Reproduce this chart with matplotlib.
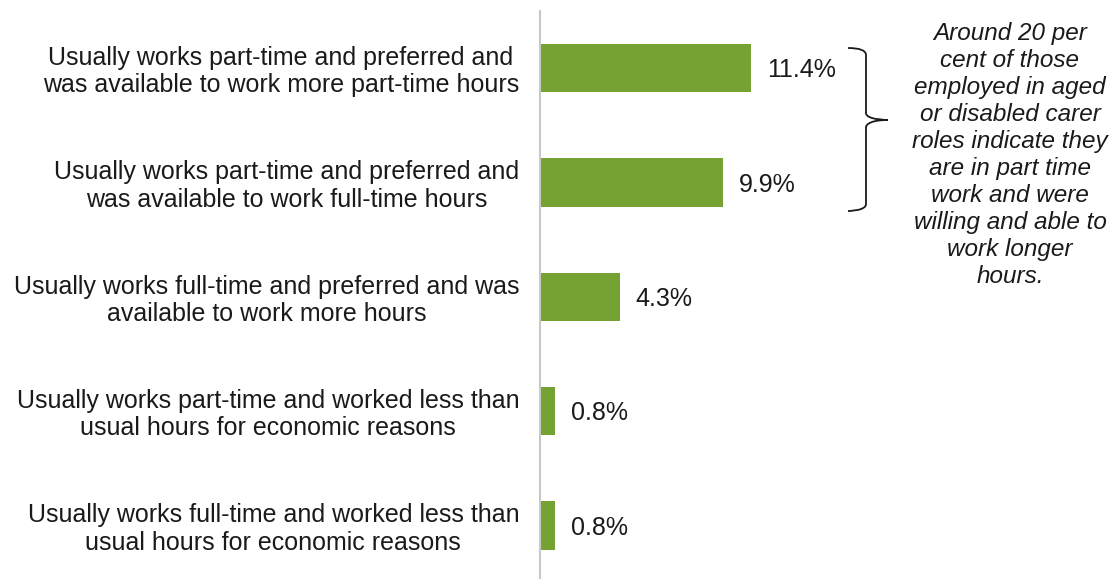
import matplotlib
matplotlib.use("Agg")
import matplotlib.pyplot as plt
from matplotlib.path import Path
from matplotlib.patches import PathPatch
from matplotlib.transforms import Affine2D, ScaledTranslation

plt.rcParams['font.family'] = ['Liberation Sans', 'DejaVu Sans']

categories = [
    "Usually works part-time and preferred and\nwas available to work more part-time hours",
    "Usually works part-time and preferred and\nwas available to work full-time hours",
    "Usually works full-time and preferred and was\navailable to work more hours",
    "Usually works part-time and worked less than\nusual hours for economic reasons",
    "Usually works full-time and worked less than\nusual hours for economic reasons",
]
values = [11.4, 9.9, 4.3, 0.8, 0.8]
value_labels = ["11.4%", "9.9%", "4.3%", "0.8%", "0.8%"]
note = ("Around 20 per\ncent of those\nemployed in aged\nor disabled carer\n"
        "roles indicate they\nare in part time\nwork and were\nwilling and able to\n"
        "work longer\nhours.")

W, H = 1111, 579
fig = plt.figure(figsize=(W / 100, H / 100), dpi=100)
ax_left, ax_top, ax_bottom = 540, 11, 579
ppu = 18.5  # pixels per percent
xmax = 14
ax = fig.add_axes([ax_left / W, 1 - ax_bottom / H, xmax * ppu / W, (ax_bottom - ax_top) / H])

green = "#76A234"
txt = "#1a1a1a"
ypos = list(range(len(values)))
ax.barh(ypos, values, height=0.42, color=green, zorder=2)
ax.set_ylim(4.468, -0.5)
ax.set_xlim(0, xmax)

for y, v, lab in zip(ypos, values, value_labels):
    ax.annotate(lab, (v, y), xytext=(11.5, -1.5), textcoords="offset points",
                va="center", ha="left", fontsize=18, color=txt)

ax.set_yticks(ypos)
ax.set_yticklabels(categories, fontsize=18, color=txt, linespacing=1.18,
                   multialignment="center")
ax.tick_params(axis="y", length=0, pad=15)
ax.tick_params(axis="x", bottom=False, labelbottom=False)
for s in ["top", "right", "bottom"]:
    ax.spines[s].set_visible(False)
ax.spines["left"].set_color("#c8c8c8")
ax.spines["left"].set_linewidth(1.5)
shift = ScaledTranslation(0, -3.5 / 100, fig.dpi_scale_trans)
for t in ax.get_yticklabels():
    t.set_ha("right")
    t.set_va("center")
    t.set_transform(t.get_transform() + shift)

# note text
fig.text(1010 / W, 1 - 155 / H, note, ha="center", va="center", fontsize=17.5,
         style="italic", color=txt, linespacing=1.22)

# curly bracket in figure pixel coords (y measured from top)
xl, xv, xp = 848, 866, 888
yt, ym, yb = 48, 120, 211
r = 7
verts = [
    (xl, yt), (xv, yt), (xv, yt + r),
    (xv, ym - r),
    (xv, ym), (xp, ym), (xp, ym),
    (xv, ym), (xv, ym + r), (xv, ym + r),
    (xv, yb - r),
    (xv, yb), (xl, yb), (xl, yb),
]
codes = [Path.MOVETO, Path.CURVE3, Path.CURVE3,
         Path.LINETO,
         Path.CURVE4, Path.CURVE4, Path.CURVE4,
         Path.CURVE4, Path.CURVE4, Path.CURVE4,
         Path.LINETO,
         Path.CURVE4, Path.CURVE4, Path.CURVE4]
tr = Affine2D().scale(1, -1).translate(0, H).scale(1.0 / W, 1.0 / H) + fig.transFigure
patch = PathPatch(Path(verts, codes), fill=False, edgecolor=txt, lw=1.3, transform=tr)
fig.add_artist(patch)

fig.savefig("out.png", dpi=100)
